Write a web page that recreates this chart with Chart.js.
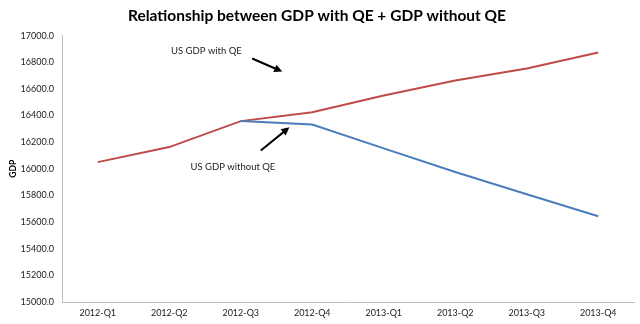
<!DOCTYPE html>
<html>
<head>
<meta charset="utf-8">
<script src="https://cdn.jsdelivr.net/npm/chart.js@4"></script>
<style>
  html, body { margin: 0; padding: 0; background: #fff; }
  #wrap { width: 640px; height: 324px; }
</style>
</head>
<body>
<div id="wrap"><canvas id="gdp"></canvas></div>
<script>
const quarters = ["2012-Q1", "2012-Q2", "2012-Q3", "2012-Q4", "2013-Q1", "2013-Q2", "2013-Q3", "2013-Q4"];
const gdpWithQE = [16050, 16163, 16358, 16425, 16550, 16663, 16753, 16873];
const gdpWithoutQE = [null, null, 16358, 16333, 16153, 15976, 15809, 15644];

// callouts in data space: x is a (fractional) category index, y a GDP value
const callouts = [
  { text: "US GDP with QE", tx: 1.52, ty: 16887, from: [2.16, 16828], to: [2.58, 16730] },
  { text: "US GDP without QE", tx: 1.89, ty: 16011, from: [2.28, 16138], to: [2.68, 16311] },
];

const fontFamily = "Lato, 'Open Sans', sans-serif";

// draws the text labels and black arrows
const calloutPlugin = {
  id: "callouts",
  afterDatasetsDraw(chart) {
    const ctx = chart.ctx;
    const xs = chart.scales.x;
    const ys = chart.scales.y;
    const px = (i) => xs.getPixelForValue(0) + i * (xs.getPixelForValue(1) - xs.getPixelForValue(0));
    ctx.save();
    ctx.font = "9.5px " + fontFamily;
    ctx.textAlign = "center";
    ctx.textBaseline = "middle";
    for (const c of callouts) {
      ctx.fillStyle = "#222";
      ctx.fillText(c.text, px(c.tx), ys.getPixelForValue(c.ty));
      const x1 = px(c.from[0]), y1 = ys.getPixelForValue(c.from[1]);
      const x2 = px(c.to[0]), y2 = ys.getPixelForValue(c.to[1]);
      const ang = Math.atan2(y2 - y1, x2 - x1);
      ctx.strokeStyle = "#000";
      ctx.lineWidth = 2;
      ctx.beginPath();
      ctx.moveTo(x1, y1);
      ctx.lineTo(x2 - 4 * Math.cos(ang), y2 - 4 * Math.sin(ang));
      ctx.stroke();
      // arrow head
      ctx.fillStyle = "#000";
      ctx.beginPath();
      ctx.moveTo(x2, y2);
      ctx.lineTo(x2 - 8 * Math.cos(ang) + 4 * Math.sin(ang), y2 - 8 * Math.sin(ang) - 4 * Math.cos(ang));
      ctx.lineTo(x2 - 8 * Math.cos(ang) - 4 * Math.sin(ang), y2 - 8 * Math.sin(ang) + 4 * Math.cos(ang));
      ctx.closePath();
      ctx.fill();
    }
    ctx.restore();
  },
};

new Chart(document.getElementById("gdp"), {
  type: "line",
  data: {
    labels: quarters,
    datasets: [
      {
        label: "US GDP without QE",
        data: gdpWithoutQE,
        borderColor: "#4a7ebb",
        borderWidth: 2,
        pointRadius: 0,
        tension: 0,
        spanGaps: false,
      },
      {
        label: "US GDP with QE",
        data: gdpWithQE,
        borderColor: "#be4b48",
        borderWidth: 2,
        pointRadius: 0,
        tension: 0,
      },
    ],
  },
  options: {
    responsive: true,
    maintainAspectRatio: false,
    animation: false,
    layout: { padding: { left: 0, right: 6, top: 0, bottom: 0 } },
    plugins: {
      legend: { display: false },
      tooltip: { enabled: false },
      title: {
        display: true,
        text: "Relationship between GDP with QE + GDP without QE",
        color: "#000",
        font: { family: fontFamily, size: 15.5, weight: "bold" },
        padding: { top: 7, bottom: 10 },
      },
    },
    scales: {
      x: {
        offset: true,
        grid: { display: false, drawTicks: false },
        border: { display: true, color: "#bfbfbf", width: 1 },
        ticks: { color: "#222", font: { family: fontFamily, size: 9 }, padding: 6, maxRotation: 0 },
        afterFit(scale) { scale.height = 22; },
      },
      y: {
        min: 15000,
        max: 17000,
        grid: { display: false, drawTicks: false },
        border: { display: true, color: "#bfbfbf", width: 1 },
        ticks: {
          stepSize: 200,
          color: "#222",
          font: { family: fontFamily, size: 9 },
          padding: 8,
          callback: (v) => Number(v).toFixed(1),
        },
        title: {
          display: true,
          text: "GDP",
          color: "#000",
          font: { family: fontFamily, size: 8.5, weight: "bold" },
          padding: { top: 8, bottom: 0 },
        },
        afterFit(scale) { scale.width = 62; },
      },
    },
  },
  plugins: [calloutPlugin],
});
</script>
</body>
</html>
